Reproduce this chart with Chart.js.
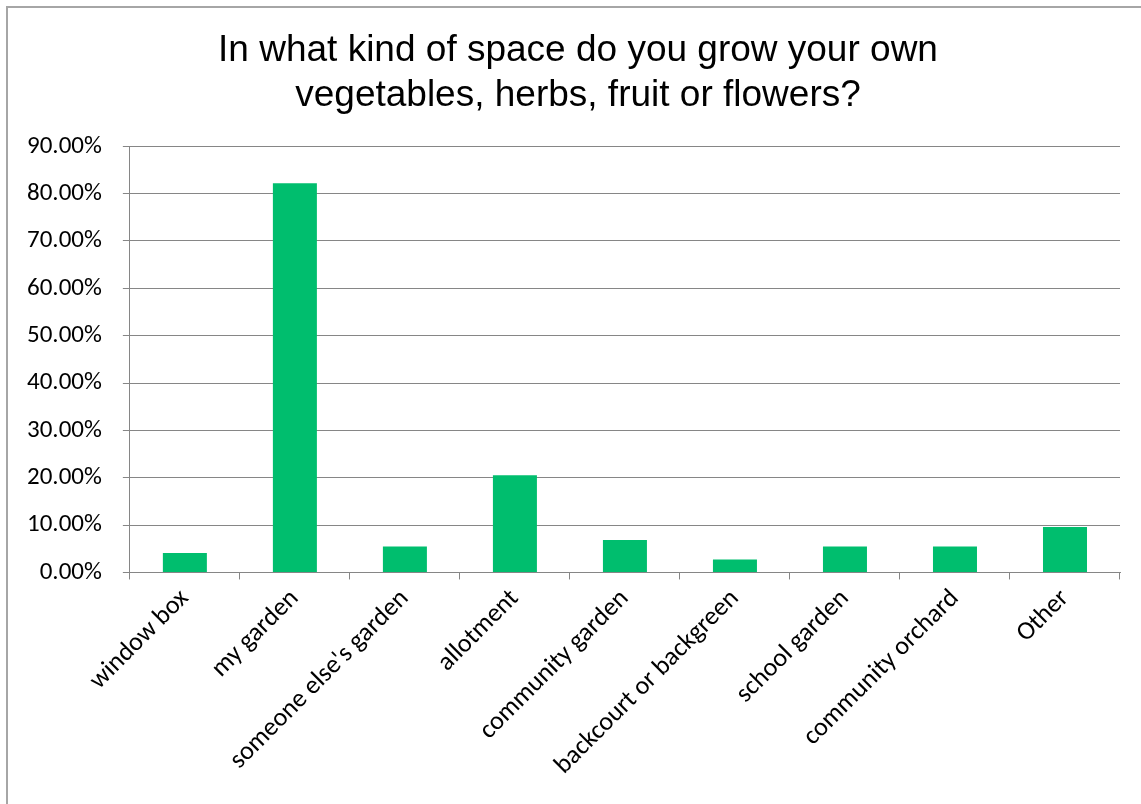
<!DOCTYPE html>
<html>
<head>
<meta charset="utf-8">
<script src="https://cdn.jsdelivr.net/npm/chart.js@4"></script>
<style>
  body { margin: 0; background: #fff; }
  #frame { position: absolute; left: 6px; top: 6px; width: 1160px; height: 820px;
           border-left: 2px solid #a6a6a6; border-top: 2px solid #a6a6a6; }
  #wrap { position: absolute; left: 0; top: 0; width: 1141px; height: 804px; }
</style>
</head>
<body>
<div id="frame"></div>
<div id="wrap"><canvas id="myChartSpace"></canvas></div>
<script>
// survey answers (share of respondents, %)
const spaceLabels = ['window box', 'my garden', "someone else's garden", 'allotment',
  'community garden', 'backcourt or backgreen', 'school garden', 'community orchard', 'Other'];
const spaceValues = [4.11, 82.19, 5.48, 20.55, 6.85, 2.74, 5.48, 5.48, 9.59];
const titleLines = ['In what kind of space do you grow your own', 'vegetables, herbs, fruit or flowers?'];

const lineColor = '#868686';

// the title sits a little right of the canvas centre in the original
const titleShift = {
    id: 'titleShift',
    afterLayout(chart) {
        const t = chart.titleBlock;
        if (!t) return;
        const dx = 578 - (t.left + t.right) / 2;
        t.left += dx;
        t.right += dx;
    }
};

const ctx = document.getElementById('myChartSpace').getContext('2d');
const chart = new Chart(ctx, {
    type: 'bar',
    data: {
        labels: spaceLabels,
        datasets: [{
            label: 'Space',
            data: spaceValues,
            backgroundColor: '#00BE6E',
            barPercentage: 0.4,
            categoryPercentage: 1.0
        }]
    },
    options: {
        responsive: true,
        maintainAspectRatio: false,
        animation: false,
        layout: { padding: { left: 6, right: 21, top: 0, bottom: 19 } },
        plugins: {
            legend: { display: false },
            tooltip: { enabled: false },
            title: {
                display: true,
                text: titleLines,
                color: '#000',
                font: { family: '"Liberation Sans", Arial, sans-serif', size: 37, weight: 'normal', lineHeight: 1.22 },
                padding: { top: 28, bottom: 28 }
            }
        },
        scales: {
            y: {
                min: 0,
                max: 90,
                ticks: {
                    stepSize: 10,
                    color: '#000',
                    font: { family: 'Carlito, Lato, sans-serif', size: 25 },
                    padding: 21,
                    callback: (v) => v.toFixed(2) + '%'
                },
                grid: { color: lineColor, tickLength: 7, lineWidth: 1 },
                border: { color: lineColor }
            },
            x: {
                ticks: {
                    color: '#000',
                    font: { family: 'Carlito, Lato, sans-serif', size: 26 },
                    minRotation: 45,
                    maxRotation: 45,
                    padding: 4
                },
                grid: { offset: true, drawOnChartArea: false, color: lineColor, tickLength: 7 },
                border: { color: lineColor }
            }
        }
    },
    plugins: [titleShift]
});
</script>
</body>
</html>
